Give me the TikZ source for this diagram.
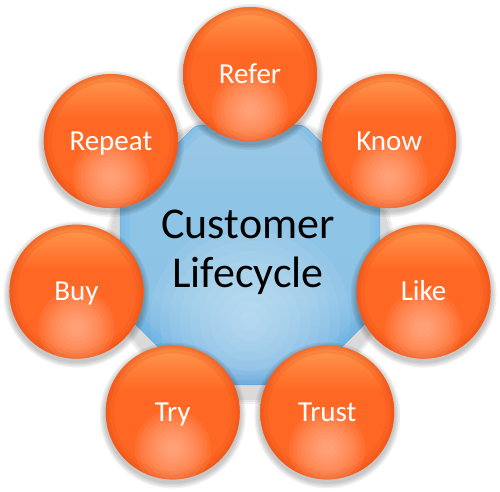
\documentclass[tikz,border=0pt]{standalone}
\usepackage{fontspec}
\setmainfont{Carlito}
\definecolor{ballmid}{HTML}{FF6824}
\definecolor{balledge}{HTML}{E84E14}
\definecolor{ballhi}{HTML}{FFC2A6}
\definecolor{balltop}{HTML}{FF9C52}
\definecolor{bluespot}{HTML}{D2EAF9}
\definecolor{blueedge}{HTML}{5DB2E6}
\definecolor{bluerim}{HTML}{4A8CCE}
\definecolor{bluebase}{HTML}{8DC4E6}
\definecolor{bluetop}{HTML}{9CC8E6}
\definecolor{bluelow}{HTML}{66AADF}
\pgfdeclareverticalshading{ballvert}{100bp}{color(0bp)=(ballmid); color(25bp)=(ballmid); color(58bp)=(ballmid); color(68bp)=(balltop!55!ballmid); color(75bp)=(balltop); color(100bp)=(balltop)}
\pgfdeclareverticalshading{octvert}{100bp}{color(0bp)=(bluerim); color(25bp)=(bluerim); color(29bp)=(bluelow); color(42bp)=(bluebase); color(62bp)=(bluebase!90!bluetop); color(75bp)=(bluetop); color(100bp)=(bluetop)}
\begin{document}
\begin{tikzpicture}[x=1pt,y=1pt,
  octshape/.style={insert path={(oc) +(22.5:140.7) -- +(67.5:140.7) -- +(112.5:140.7) -- +(157.5:140.7) -- +(202.5:140.7) -- +(247.5:140.7) -- +(292.5:140.7) -- +(337.5:140.7) -- cycle}},
  ball/.style={circle, minimum size=134pt, inner sep=0pt, shading=ballvert,
    path picture={
      \coordinate (pc) at (path picture bounding box.center);
      \foreach \w in {16,8,4}{\draw[balledge, opacity=0.22, line width=\w pt] (pc) circle (67pt);}
      \foreach \r in {38,34,...,4}{\fill[ballhi, opacity=0.11] ([yshift=-36pt]pc) circle (\r pt);}
    },
    text=white, text height=18.7pt, text depth=0pt, font=\fontsize{29}{33}\selectfont},
  octo/.style={shading=octvert, rounded corners=5pt,
    path picture={
      \foreach \r in {100,90,...,10}{\fill[bluespot, opacity=0.1] (250,170) circle (\r pt);}
      \foreach \w in {20,10}{\draw[blueedge, opacity=0.18, line width=\w pt, rounded corners=5pt] [octshape];}
    }},
  bigtext/.style={anchor=base, text=black, inner sep=0pt, font=\fontsize{44}{50}\selectfont}]
\useasboundingbox (0,0) rectangle (500,491);
\coordinate (ring) at (250,239);
\coordinate (oc) at (250,236);
% soft shadow of the central octagon
\foreach \r in {146,144,142}{\fill[black, opacity=0.05] (250,233) circle (\r);}
\path[octo] [octshape];
\draw[bluerim, opacity=0.45, line width=0.5pt, rounded corners=5pt] [octshape];
\node[bigtext] (t1) at (248,253) {Customer};
\node[bigtext] (t2) at (248,204) {Lifecycle};
% soft shadows of the balls
\foreach \k in {0,...,6}{
  \pgfmathsetmacro{\a}{90-\k*360/7}
  \foreach \r in {73,71.5,70,68.5}{\fill[black, opacity=0.06] ([shift={(\a:178)}, yshift=-3pt]ring) circle (\r);}
}
\foreach \k/\lab in {0/Refer,1/Know,2/Like,3/Trust,4/Try,5/Buy,6/Repeat}{
  \pgfmathsetmacro{\a}{90-\k*360/7}
  \node[ball] (b\k) at ([shift={(\a:178)}]ring) {\lab};
}
\end{tikzpicture}
\end{document}
